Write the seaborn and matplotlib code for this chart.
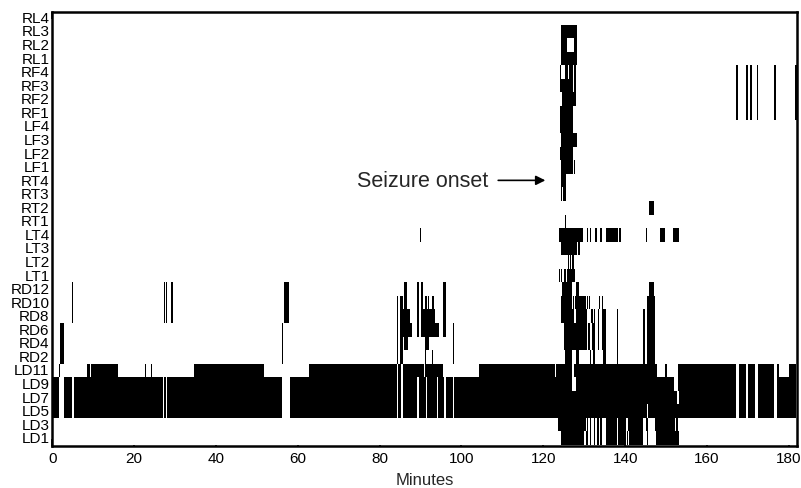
import numpy as np
import pandas as pd
import matplotlib
matplotlib.use('Agg')
import matplotlib.pyplot as plt
from matplotlib.colors import ListedColormap
import seaborn as sns

# channel labels, bottom to top
channels = ['LD1', 'LD3', 'LD5', 'LD7', 'LD9', 'LD11',
            'RD2', 'RD4', 'RD6', 'RD8', 'RD10', 'RD12',
            'LT1', 'LT2', 'LT3', 'LT4', 'RT1', 'RT2', 'RT3', 'RT4',
            'LF1', 'LF2', 'LF3', 'LF4', 'RF1', 'RF2', 'RF3', 'RF4',
            'RL1', 'RL2', 'RL3', 'RL4']

# active intervals (minutes) per channel
ld_early = [(0, 1.6), (2.9, 4.8), (5.3, 27.0), (27.4, 27.7), (28.0, 56.1),
            (58.0, 84.2), (84.6, 85.2), (85.7, 89.2), (89.5, 90.0), (90.3, 91.3),
            (91.6, 93.9), (94.2, 95.8), (96.2, 97.9)]
ld_late = [(167.8, 169.6), (170.0, 171.7), (172.4, 176.5), (177.2, 181.8)]
rd_seiz = [(125.1, 130.7), (131.1, 131.5), (131.9, 132.7), (133.4, 133.6),
           (134.4, 135.3), (138.0, 138.3), (144.4, 144.8), (145.4, 147.4)]
rf_late = [(167.0, 167.5), (169.6, 170.1), (170.7, 171.1), (172.3, 172.5),
           (176.5, 176.9), (181.7, 182.2)]

LD1 = [(124.4, 129.9), (130.5, 130.9), (131.3, 131.7), (132.3, 132.7), (133.1, 133.5),
       (133.9, 134.3), (135.4, 138.0), (138.3, 140.3), (140.6, 140.8), (141.1, 144.4),
       (145.4, 145.6), (147.6, 153.1)]
LD3 = [(123.75, 130.4), (130.7, 130.9), (131.3, 131.7), (132.3, 132.7), (133.1, 133.5),
       (133.9, 134.3), (135.4, 138.0), (138.3, 140.3), (140.8, 144.4), (145.2, 145.5),
       (147.4, 152.3), (152.5, 152.8)]
LD5 = ld_early + [(98.3, 145.4), (145.6, 167.0)] + ld_late
LD7 = ld_early + [(98.3, 152.7), (153.2, 167.0)] + ld_late
LD9 = ld_early + [(98.3, 127.1), (128.2, 148.4), (148.6, 151.9), (153.1, 167.0)] + ld_late
LD11 = [(1.7, 1.9), (8.4, 9.1), (9.5, 16.0), (22.7, 22.9), (24.1, 24.3), (34.6, 35.0),
        (35.3, 51.7), (62.8, 84.2), (84.6, 85.2), (85.7, 90.9), (91.2, 95.5),
        (104.2, 122.9), (123.2, 127.1), (127.4, 147.8), (149.8, 150.2), (153.1, 167.0),
        (167.8, 169.6), (170.0, 171.7), (172.4, 176.5), (177.2, 177.6), (180.0, 181.8)]
RD2 = [(1.9, 2.8), (56.1, 56.3), (84.2, 84.5), (85.0, 85.6), (91.1, 91.3), (92.8, 93.1),
       (98.0, 98.2), (125.4, 126.85), (128.0, 128.7), (131.5, 131.7), (132.2, 132.6),
       (133.5, 133.7), (134.6, 135.3), (138.0, 138.3), (144.4, 144.8), (145.4, 147.4)]
RD4 = [(1.9, 2.8), (56.1, 56.3), (84.2, 84.5), (85.0, 85.6), (86.1, 86.9), (91.1, 92.1),
       (98.0, 98.2)] + rd_seiz
RD6 = [(1.9, 2.8), (56.1, 56.3), (84.2, 84.5), (85.0, 87.9), (89.2, 89.7), (90.3, 94.6),
       (95.5, 96.2), (98.0, 98.2)] + rd_seiz
RD8 = [(4.8, 5.0), (27.2, 27.5), (27.7, 28.0), (29.0, 29.4), (56.7, 57.9), (84.2, 84.5),
       (85.0, 87.5), (89.2, 89.7), (90.3, 93.6), (93.9, 94.1), (95.5, 96.2),
       (124.4, 127.4), (128.1, 130.7), (131.7, 132.2), (132.3, 132.7), (133.3, 133.6),
       (134.4, 135.3), (138.0, 138.3), (144.4, 144.8), (145.4, 147.4)]
RD10 = [(4.8, 5.0), (27.2, 27.5), (27.7, 28.0), (29.0, 29.4), (56.7, 57.9), (84.2, 84.5),
        (85.0, 85.6), (86.1, 86.7), (89.2, 89.7), (90.2, 90.5), (91.3, 91.6), (91.8, 92.1),
        (92.8, 93.3), (93.9, 94.1), (95.5, 96.2), (124.4, 127.1), (127.3, 127.5),
        (127.7, 130.4), (130.7, 130.9), (131.2, 131.5), (133.6, 133.9), (134.3, 134.6),
        (145.4, 147.4)]
RD12 = [(4.8, 5.0), (27.2, 27.5), (27.7, 28.0), (29.0, 29.4), (56.7, 57.9), (86.1, 86.7),
        (89.2, 89.7), (90.2, 90.5), (93.9, 94.1), (95.5, 96.2), (124.6, 127.1),
        (128.2, 128.7), (145.9, 147.1)]
LT1 = [(123.9, 124.2), (124.4, 124.6), (125.0, 125.5), (125.8, 127.7)]
LT2 = [(126.0, 126.3), (126.6, 126.8), (127.1, 127.4)]
LT3 = [(124.4, 128.2), (128.7, 129.0)]
LT4 = [(89.9, 90.15), (123.9, 129.6), (130.7, 130.9), (131.5, 131.7), (132.7, 133.1),
       (133.8, 134.3), (135.4, 138.2), (138.5, 139.0), (145.0, 145.3), (148.4, 149.7),
       (151.8, 153.1)]
RT1 = [(125.35, 125.55)]
RT2 = [(145.9, 147.0)]
RT3 = [(124.4, 124.6), (124.8, 125.5)]
RT4 = [(124.4, 125.5)]
LF1 = [(124.4, 127.3), (127.5, 127.7)]
LF2 = [(124.2, 127.3)]
LF3 = [(124.3, 128.2)]
LF4 = [(124.2, 127.3)]
RF1 = [(124.2, 126.85), (127.1, 127.3)] + rf_late
RF2 = [(124.6, 128.1)] + rf_late
RF3 = [(124.2, 127.3), (127.6, 127.9)] + rf_late
RF4 = [(124.2, 124.4), (125.4, 126.0), (126.2, 127.3), (127.6, 128.1)] + rf_late
RL1 = [(124.4, 128.2)]
RL2 = [(124.4, 125.8), (127.4, 128.2)]
RL3 = [(124.4, 128.2)]
RL4 = []

activity = [LD1, LD3, LD5, LD7, LD9, LD11, RD2, RD4, RD6, RD8, RD10, RD12,
            LT1, LT2, LT3, LT4, RT1, RT2, RT3, RT4, LF1, LF2, LF3, LF4,
            RF1, RF2, RF3, RF4, RL1, RL2, RL3, RL4]

# binary raster on a 0.1 min grid
dt = 0.1
t_max = 182
n_bins = int(round(t_max / dt))
grid = np.zeros((len(channels), n_bins))
for i, segs in enumerate(activity):
    for a, b in segs:
        i0 = int(np.floor(a / dt))
        i1 = max(int(np.ceil(b / dt)), i0 + 1)
        grid[i, i0:min(i1, n_bins)] = 1

# heatmap draws row 0 at the top
df = pd.DataFrame(grid[::-1], index=channels[::-1])

sns.set_style('ticks')
plt.rcParams['font.family'] = ['Liberation Sans', 'DejaVu Sans']

fig = plt.figure(figsize=(8.01, 4.89), dpi=100)
ax = fig.add_axes([0.0653, 0.0865, 0.9297, 0.887])
sns.heatmap(df, cmap=ListedColormap(['white', 'black']), vmin=0, vmax=1,
            cbar=False, xticklabels=False, yticklabels=True, ax=ax)

n = len(channels)
ax.set_ylim(n + 0.05, 0.06)
ax.set_xlim(0, n_bins)
xt = np.arange(0, 181, 20)
ax.set_xticks(xt / dt)
ax.set_xticklabels([str(v) for v in xt], rotation=0)
ax.set_yticks(np.arange(n) + 0.5)
ax.set_yticklabels(channels[::-1], rotation=0)

for s in ax.spines.values():
    s.set_visible(True)
    s.set_linewidth(1.8)
    s.set_color('black')
ax.tick_params(direction='in', top=True, right=True, length=5, width=1.2,
               labelsize=11, pad=4, colors='black')
ax.tick_params(axis='y', pad=2)
ax.set_xlabel('Minutes', fontsize=12, labelpad=5)
ax.set_ylabel('')

# arrow annotation
rt4_y = n - 1 - channels.index('RT4') + 0.5
ax.annotate('Seizure onset', xy=(120.5 / dt, rt4_y - 0.02), xytext=(74.4 / dt, rt4_y - 0.02),
            fontsize=15.5, ha='left', va='center',
            arrowprops=dict(arrowstyle='-|>', color='black', lw=1.2,
                            mutation_scale=14, shrinkA=5, shrinkB=0))

fig.savefig('out.png', dpi=100)
